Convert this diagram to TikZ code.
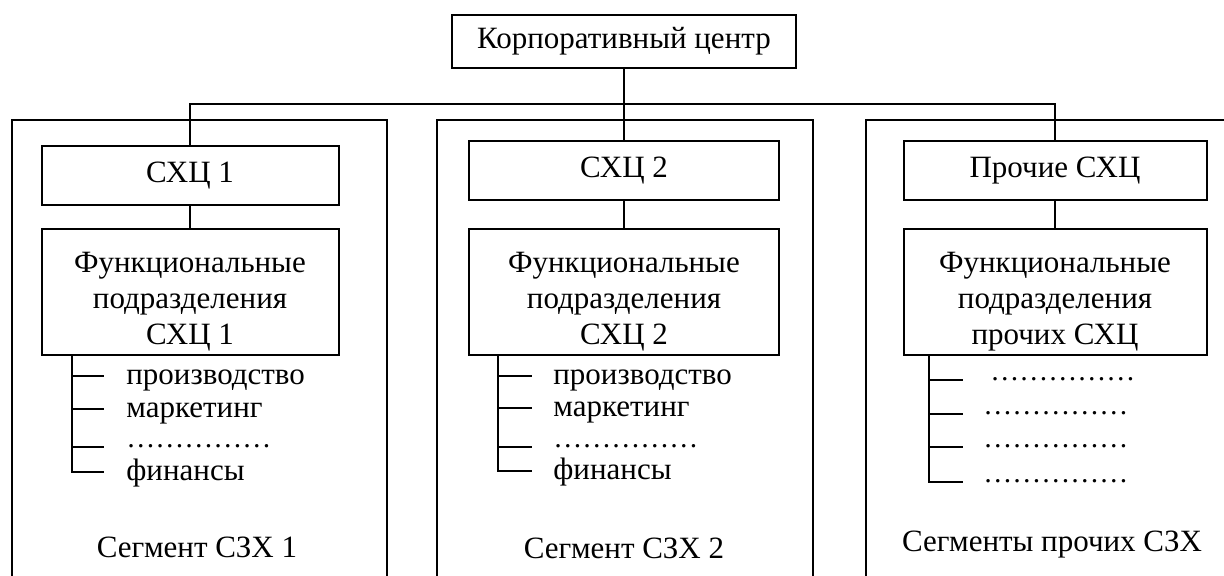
\documentclass[tikz,border=0pt]{standalone}
\usepackage{fontspec}
\setmainfont{Liberation Serif}
\usepackage{tikz}
\usetikzlibrary{positioning}

\newcommand{\topstrut}{\rule{0pt}{20pt}}

\begin{document}
\begin{tikzpicture}[
    x=0.5pt, y=-0.5pt,
    box/.style={rectangle, draw=black, line width=1pt, align=center, inner sep=2pt, minimum height=29.5pt},
    funcbox/.style={box, minimum height=62pt},
    segframe/.style={draw=black, line width=1.2pt},
    link/.style={draw=black, line width=0.9pt},
    item/.style={anchor=west, inner sep=0pt, text height=2.1ex, text depth=.25ex},
    dots/.style={anchor=west, inner sep=0pt, text height=0pt, text depth=0pt, font=\fontsize{14.5pt}{18pt}\selectfont},
    font=\fontsize{15.5pt}{18pt}\selectfont
]
    \useasboundingbox (0,0) rectangle (1224,575);
    \clip (0,0) rectangle (1224,575);

    % Segment frames
    \draw[segframe] (12,120) rectangle (387,600);
    \draw[segframe] (437,120) rectangle (813,600);
    \draw[segframe] (866,120) rectangle (1240,600);

    % Corporate centre
    \node[box, minimum width=172pt, minimum height=26.5pt] (centre) at (624,41.5) {Корпоративный центр};

    % SBU boxes
    \node[box, minimum width=148.5pt] (sxc1) at (190,175.5) {СХЦ 1};
    \node[box, minimum width=155pt] (sxc2) at (624,170.5) {СХЦ 2};
    \node[box, minimum width=151.5pt] (sxc3) at (1055,170.5) {Прочие СХЦ};

    % Functional units
    \node[funcbox, minimum width=148.5pt] (func1) at (190,292) {\topstrut Функциональные\\подразделения\\СХЦ 1};
    \node[funcbox, minimum width=155pt] (func2) at (624,292) {\topstrut Функциональные\\подразделения\\СХЦ 2};
    \node[funcbox, minimum width=151.5pt, minimum height=63pt] (func3) at (1055,292) {\topstrut Функциональные\\подразделения\\прочих СХЦ};

    % Bus
    \coordinate (bus) at (624,104);
    \draw[link] (centre) -- (bus);
    \draw[link] (sxc1.north) |- (bus) -| (sxc3.north);
    \draw[link] (bus) -- (sxc2.north);
    \draw[link] (sxc1) -- (func1);
    \draw[link] (sxc2) -- (func2);
    \draw[link] (sxc3) -- (func3);

    % List 1
    \node[item] (pr1) at (126,376) {производство};
    \node[item] (mk1) at (126,409) {маркетинг};
    \node[dots] (dt1) at (126,447) {……………};
    \node[item] (fn1) at (126,472) {финансы};
    \coordinate (sp1) at (func1.south -| 72,0);
    \draw[link] (sp1) |- ([xshift=-11pt]fn1.west);
    \foreach \n in {pr1,mk1,dt1}
        \draw[link] (sp1 |- \n.west) -- ([xshift=-11pt]\n.west);

    % List 2
    \node[item] (pr2) at (553,376) {производство};
    \node[item] (mk2) at (553,408) {маркетинг};
    \node[dots] (dt2) at (553,447) {……………};
    \node[item] (fn2) at (553,471) {финансы};
    \coordinate (sp2) at (func2.south -| 498,0);
    \draw[link] (sp2) |- ([xshift=-10.5pt]fn2.west);
    \foreach \n in {pr2,mk2,dt2}
        \draw[link] (sp2 |- \n.west) -- ([xshift=-10.5pt]\n.west);

    % List 3
    \node[dots] (da3) at (990,380) {……………};
    \node[dots] (db3) at (983,414) {……………};
    \node[dots] (dc3) at (983,447) {……………};
    \node[dots] (dd3) at (983,482) {……………};
    \coordinate (sp3) at (func3.south -| 929,0);
    \draw[link] (sp3) |- ([xshift=-10pt]dd3.west);
    \draw[link] (sp3 |- da3.west) -- ([xshift=-13.5pt]da3.west);
    \foreach \n in {db3,dc3}
        \draw[link] (sp3 |- \n.west) -- ([xshift=-10pt]\n.west);

    % Segment labels
    \node (seg1) at (197,547) {Сегмент СЗХ 1};
    \node (seg2) at (624,548) {Сегмент СЗХ 2};
    \node (seg3) at (1052,545) {Сегменты прочих СЗХ};
\end{tikzpicture}
\end{document}
